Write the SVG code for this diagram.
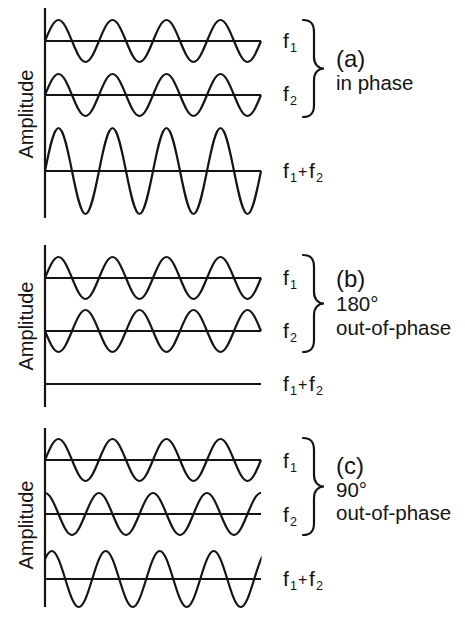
<svg xmlns="http://www.w3.org/2000/svg" xmlns:xlink="http://www.w3.org/1999/xlink" width="465" height="617" viewBox="0 0 465 617">
<style>
.w{fill:none;stroke:#141414;stroke-width:2.2;stroke-linejoin:round}
.ax{stroke:#141414;stroke-width:2.2}
.br{fill:none;stroke:#141414;stroke-width:2.2;stroke-linecap:round}
text{font-family:"Liberation Sans",Arial,Helvetica,sans-serif;fill:#141414}
.f{font-size:21px}
.s{font-size:12.5px}
.p{font-size:16px}
.big{font-size:24px}
.t{font-size:20.5px}
.amp{font-size:20px;text-anchor:middle}
</style>
<defs>
<path id="s21" class="w" d="M0,0 c4.4,-10.76 8.61,-21 13.5,-21 c4.89,0 9.1,10.24 13.5,21 c4.4,10.76 8.61,21 13.5,21 c4.89,0 9.1,-10.24 13.5,-21 c4.4,-10.76 8.61,-21 13.5,-21 c4.89,0 9.1,10.24 13.5,21 c4.4,10.76 8.61,21 13.5,21 c4.89,0 9.1,-10.24 13.5,-21 c4.4,-10.76 8.61,-21 13.5,-21 c4.89,0 9.1,10.24 13.5,21 c4.4,10.76 8.61,21 13.5,21 c4.89,0 9.1,-10.24 13.5,-21 c4.4,-10.76 8.61,-21 13.5,-21 c4.89,0 9.1,10.24 13.5,21 c4.4,10.76 8.61,21 13.5,21 c4.89,0 9.1,-10.24 13.5,-21"/>
<path id="c21" class="w" d="M0,-21 c4.89,0 9.1,10.24 13.5,21 c4.4,10.76 8.61,21 13.5,21 c4.89,0 9.1,-10.24 13.5,-21 c4.4,-10.76 8.61,-21 13.5,-21 c4.89,0 9.1,10.24 13.5,21 c4.4,10.76 8.61,21 13.5,21 c4.89,0 9.1,-10.24 13.5,-21 c4.4,-10.76 8.61,-21 13.5,-21 c4.89,0 9.1,10.24 13.5,21 c4.4,10.76 8.61,21 13.5,21 c4.89,0 9.1,-10.24 13.5,-21 c4.4,-10.76 8.61,-21 13.5,-21 c4.89,0 9.1,10.24 13.5,21 c4.4,10.76 8.61,21 13.5,21 c4.89,0 9.1,-10.24 13.5,-21 c4.4,-10.76 8.61,-21 13.5,-21"/>
<path id="s43" class="w" d="M0,0 c4.4,-22.03 8.61,-43 13.5,-43 c4.89,0 9.1,20.97 13.5,43 c4.4,22.03 8.61,43 13.5,43 c4.89,0 9.1,-20.97 13.5,-43 c4.4,-22.03 8.61,-43 13.5,-43 c4.89,0 9.1,20.97 13.5,43 c4.4,22.03 8.61,43 13.5,43 c4.89,0 9.1,-20.97 13.5,-43 c4.4,-22.03 8.61,-43 13.5,-43 c4.89,0 9.1,20.97 13.5,43 c4.4,22.03 8.61,43 13.5,43 c4.89,0 9.1,-20.97 13.5,-43 c4.4,-22.03 8.61,-43 13.5,-43 c4.89,0 9.1,20.97 13.5,43 c4.4,22.03 8.61,43 13.5,43 c4.89,0 9.1,-20.97 13.5,-43"/>
<path id="s28" class="w" d="M0,0 c4.4,-14.34 8.61,-28 13.5,-28 c4.89,0 9.1,13.66 13.5,28 c4.4,14.34 8.61,28 13.5,28 c4.89,0 9.1,-13.66 13.5,-28 c4.4,-14.34 8.61,-28 13.5,-28 c4.89,0 9.1,13.66 13.5,28 c4.4,14.34 8.61,28 13.5,28 c4.89,0 9.1,-13.66 13.5,-28 c4.4,-14.34 8.61,-28 13.5,-28 c4.89,0 9.1,13.66 13.5,28 c4.4,14.34 8.61,28 13.5,28 c4.89,0 9.1,-13.66 13.5,-28 c4.4,-14.34 8.61,-28 13.5,-28 c4.89,0 9.1,13.66 13.5,28 c4.4,14.34 8.61,28 13.5,28 c4.89,0 9.1,-13.66 13.5,-28 c4.4,-14.34 8.61,-28 13.5,-28"/>
<path id="brace" class="br" d="M0,0 C8,0 11,4 11,12 L11,37 C11,44 15,48.5 21,48.5 C15,48.5 11,53 11,60 L11,85 C11,93 8,97 0,97"/>
<clipPath id="clipc"><rect x="45" y="540" width="216.5" height="80"/></clipPath>
</defs>

<g id="panel-a">
<line class="ax" x1="45" y1="8" x2="45" y2="218"/>
<text class="amp" transform="translate(33,114) rotate(-90)">Amplitude</text>
<g id="a-f1">
<line class="ax" x1="45" y1="41" x2="261" y2="41"/>
<use xlink:href="#s21" x="45" y="41"/>
<text class="f" x="283" y="48">f</text><text class="s" x="290" y="52">1</text>
</g>
<g id="a-f2">
<line class="ax" x1="45" y1="95" x2="261" y2="95"/>
<use xlink:href="#s21" x="45" y="95"/>
<text class="f" x="283" y="101">f</text><text class="s" x="290" y="105">2</text>
</g>
<g id="a-sum">
<line class="ax" x1="45" y1="171" x2="261" y2="171"/>
<use xlink:href="#s43" x="45" y="171"/>
<text class="f" x="283" y="178">f</text><text class="s" x="290" y="182">1</text><text class="p" x="298" y="177">+</text><text class="f" x="309" y="178">f</text><text class="s" x="316" y="182">2</text>
</g>
<g id="a-label">
<use xlink:href="#brace" x="303" y="20"/>
<text class="big" x="336" y="67">(a)</text>
<text class="t" x="336" y="90">in phase</text>
</g>
</g>

<g id="panel-b">
<line class="ax" x1="45" y1="245" x2="45" y2="407"/>
<text class="amp" transform="translate(33,326) rotate(-90)">Amplitude</text>
<g id="b-f1">
<line class="ax" x1="45" y1="278" x2="261" y2="278"/>
<use xlink:href="#s21" x="45" y="278"/>
<text class="f" x="283" y="285">f</text><text class="s" x="290" y="289">1</text>
</g>
<g id="b-f2">
<line class="ax" x1="45" y1="331" x2="261" y2="331"/>
<use xlink:href="#s21" transform="translate(45,331) scale(1,-1)"/>
<text class="f" x="283" y="338">f</text><text class="s" x="290" y="342">2</text>
</g>
<g id="b-sum">
<line class="ax" x1="45" y1="384" x2="261" y2="384"/>
<text class="f" x="283" y="391">f</text><text class="s" x="290" y="395">1</text><text class="p" x="298" y="390">+</text><text class="f" x="309" y="391">f</text><text class="s" x="316" y="395">2</text>
</g>
<g id="b-label">
<use xlink:href="#brace" x="303" y="255"/>
<text class="big" x="336" y="287">(b)</text>
<text class="t" x="336" y="311">180°</text>
<text class="t" x="336" y="335">out-of-phase</text>
</g>
</g>

<g id="panel-c">
<line class="ax" x1="45" y1="428" x2="45" y2="607"/>
<text class="amp" transform="translate(33,525) rotate(-90)">Amplitude</text>
<g id="c-f1">
<line class="ax" x1="45" y1="460" x2="261" y2="460"/>
<use xlink:href="#s21" x="45" y="460"/>
<text class="f" x="283" y="468">f</text><text class="s" x="290" y="472">1</text>
</g>
<g id="c-f2">
<line class="ax" x1="45" y1="514" x2="261" y2="514"/>
<use xlink:href="#c21" x="45" y="514"/>
<text class="f" x="283" y="522">f</text><text class="s" x="290" y="526">2</text>
</g>
<g id="c-sum">
<line class="ax" x1="45" y1="579" x2="261" y2="579"/>
<g clip-path="url(#clipc)"><use xlink:href="#s28" x="38.25" y="579"/></g>
<text class="f" x="283" y="586">f</text><text class="s" x="290" y="590">1</text><text class="p" x="298" y="585">+</text><text class="f" x="309" y="586">f</text><text class="s" x="316" y="590">2</text>
</g>
<g id="c-label">
<use xlink:href="#brace" x="303" y="438"/>
<text class="big" x="336" y="474">(c)</text>
<text class="t" x="336" y="497">90°</text>
<text class="t" x="336" y="520">out-of-phase</text>
</g>
</g>
</svg>
